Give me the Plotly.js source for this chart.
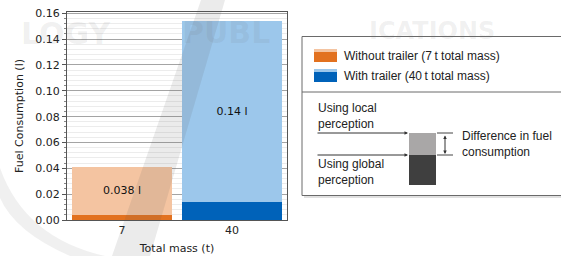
<!DOCTYPE html>
<html>
<head>
<meta charset="utf-8">
<script src="https://cdn.plot.ly/plotly-3.0.1.min.js"></script>
<style>html,body{margin:0;padding:0;background:#fff;}#chart{width:561px;height:256px;}</style>
</head>
<body>
<div id="chart"></div>
<script>
// ---- data ----
const categories = ['7', '40'];
const globalConsumption = [0.0039, 0.0141];     // using global perception (dark part)
const localConsumption = [0.0412, 0.154];       // using local perception (total bar height)
const differenceLabels = ['0.038 l', '0.14 l'];
const yTickVals = [0, 0.02, 0.04, 0.06, 0.08, 0.10, 0.12, 0.14, 0.16];
const yTickText = ['0.00', '0.02', '0.04', '0.06', '0.08', '0.10', '0.12', '0.14', '0.16'];
const legendLabels = ['Without trailer (7\u2009t total mass)', 'With trailer (40\u2009t total mass)'];
const watermarkParts = ['LOGY', 'PUBL', 'ICATIONS'];

const darkColors = ['#e2711f', '#0062b9'];
const lightColors = ['#f4c4a1', '#9cc7eb'];

const difference = localConsumption.map((v, i) => v - globalConsumption[i]);

// pixel helpers for layout decorations (plot area: l=67, t=12, w=220, h=208)
const L = 67, T = 12, W = 220, H = 208;
const px = v => (v - L) / W;
const py = v => (T + H - v) / H;

const traces = [
  {
    type: 'bar', x: categories, y: globalConsumption,
    marker: {color: darkColors, line: {width: 0}},
    hoverinfo: 'skip', showlegend: false
  },
  {
    type: 'bar', x: categories, y: difference,
    marker: {color: lightColors, line: {width: 0}},
    text: differenceLabels, textposition: 'inside', insidetextanchor: 'middle',
    textangle: 0,
    textfont: {family: 'DejaVu Sans', size: 11, color: '#111'},
    hoverinfo: 'skip', showlegend: false
  }
];

const shapes = [];
const annotations = [];

// watermark text (very faint)
const wmPos = [[66, 34], [226, 33], [432, 31]];
watermarkParts.forEach((t, i) => annotations.push({xref: 'paper', yref: 'paper',
  x: px(wmPos[i][0]), y: py(wmPos[i][1]), xanchor: 'center', yanchor: 'middle',
  showarrow: false, text: '<b>' + t + '</b>',
  font: {family: 'DejaVu Sans', size: i === 2 ? 24 : 30, color: 'rgba(110,110,110,0.10)'}}));

// watermark swoosh
shapes.push({type: 'path', xref: 'paper', yref: 'paper', layer: 'above',
  path: `M ${px(201)} ${py(0)} L ${px(225)} ${py(0)} L ${px(150)} ${py(256)} L ${px(112)} ${py(256)} Z`,
  fillcolor: 'rgba(90,90,90,0.12)', line: {width: 0}});
shapes.push({type: 'path', xref: 'paper', yref: 'paper', layer: 'above',
  path: `M ${px(0)} ${py(168)} Q ${px(25)} ${py(238)} ${px(105)} ${py(256)} L ${px(70)} ${py(256)} Q ${px(15)} ${py(232)} ${px(0)} ${py(198)} Z`,
  fillcolor: 'rgba(90,90,90,0.09)', line: {width: 0}});

// legend box (shadow + box + divider)
shapes.push({type: 'rect', xref: 'paper', yref: 'paper', layer: 'below',
  x0: px(304), x1: px(575), y0: py(39), y1: py(198),
  fillcolor: 'rgba(0,0,0,0.12)', line: {width: 0}});
shapes.push({type: 'rect', xref: 'paper', yref: 'paper', layer: 'below',
  x0: px(302), x1: px(575), y0: py(36.5), y1: py(195.5),
  fillcolor: '#ffffff', line: {color: '#6a6a6a', width: 1}});
shapes.push({type: 'line', xref: 'paper', yref: 'paper',
  x0: px(302), x1: px(575), y0: py(92), y1: py(92), line: {color: '#6a6a6a', width: 1}});

// legend swatches (two-tone)
[[49, 0], [69, 1]].forEach(([top, i]) => {
  shapes.push({type: 'rect', xref: 'paper', yref: 'paper',
    x0: px(314), x1: px(337), y0: py(top), y1: py(top + 3),
    fillcolor: lightColors[i], line: {width: 0}});
  shapes.push({type: 'rect', xref: 'paper', yref: 'paper',
    x0: px(314), x1: px(337), y0: py(top + 3), y1: py(top + 13),
    fillcolor: darkColors[i], line: {width: 0}});
  annotations.push({xref: 'paper', yref: 'paper', x: px(342), y: py(top + 6.5),
    xanchor: 'left', yanchor: 'middle', showarrow: false, text: legendLabels[i],
    font: {family: 'Liberation Sans, Arial', size: 12, color: '#222'}});
});

// explanation diagram
shapes.push({type: 'rect', xref: 'paper', yref: 'paper',
  x0: px(409), x1: px(436), y0: py(133), y1: py(155), fillcolor: '#a9a7a7', line: {width: 0}});
shapes.push({type: 'rect', xref: 'paper', yref: 'paper',
  x0: px(409), x1: px(436), y0: py(155), y1: py(185), fillcolor: '#3f3f3f', line: {width: 0}});
[133, 155].forEach(y => {
  shapes.push({type: 'line', xref: 'paper', yref: 'paper',
    x0: px(437), x1: px(453), y0: py(y), y1: py(y), line: {color: '#444', width: 1}});
  annotations.push({xref: 'paper', yref: 'paper', x: px(408), y: py(y),
    ax: -92, ay: 0, axref: 'pixel', ayref: 'pixel', text: '', showarrow: true,
    arrowhead: 2, arrowsize: 0.7, arrowwidth: 1, arrowcolor: '#333'});
});
annotations.push({xref: 'paper', yref: 'paper', x: px(445), y: py(154), ax: 0, ay: -20,
  text: '', showarrow: true, arrowside: 'end+start', arrowhead: 2, arrowsize: 0.7,
  arrowwidth: 1, arrowcolor: '#333'});

const diagText = [
  ['Using local<br>perception', 316, 116],
  ['Using global<br>perception', 316, 172],
  ['Difference in fuel<br>consumption', 460, 143.5]
];
diagText.forEach(([t, x, y]) => annotations.push({xref: 'paper', yref: 'paper',
  x: px(x), y: py(y), xanchor: 'left', yanchor: 'middle', align: 'left', showarrow: false,
  text: t, font: {family: 'Liberation Sans, Arial', size: 12, color: '#222'}}));

const layout = {
  width: 561, height: 256,
  margin: {l: L, r: 561 - L - W, t: T, b: 256 - T - H},
  paper_bgcolor: '#ffffff', plot_bgcolor: '#ffffff',
  barmode: 'stack', bargap: 0.09,
  font: {family: 'DejaVu Sans', size: 11, color: '#222'},
  xaxis: {
    type: 'category', showgrid: false, zeroline: false,
    showline: true, mirror: true, linecolor: '#555', linewidth: 1,
    ticks: 'outside', ticklen: 0, tickcolor: '#555',
    tickfont: {family: 'DejaVu Sans', size: 11, color: '#222'},
    title: {text: 'Total mass (t)', font: {family: 'DejaVu Sans', size: 11, color: '#222'}, standoff: 8}
  },
  yaxis: {
    range: [0, 0.161], tickvals: yTickVals, ticktext: yTickText,
    showgrid: true, gridcolor: '#a4a4a4', gridwidth: 1, zeroline: false,
    showline: true, mirror: true, linecolor: '#555', linewidth: 1,
    ticks: 'outside', ticklen: 4, tickcolor: '#555',
    tickfont: {family: 'DejaVu Sans', size: 11, color: '#222'},
    minor: {dtick: 0.004, showgrid: true, gridcolor: '#ececec', gridwidth: 1,
      ticks: 'outside', ticklen: 2, tickcolor: '#888'},
    title: {text: 'Fuel Consumption (l)', font: {family: 'DejaVu Sans', size: 11, color: '#222'}, standoff: 9}
  },
  shapes: shapes,
  annotations: annotations,
  showlegend: false
};

Plotly.newPlot('chart', traces, layout, {displayModeBar: false, staticPlot: true});
</script>
</body>
</html>
